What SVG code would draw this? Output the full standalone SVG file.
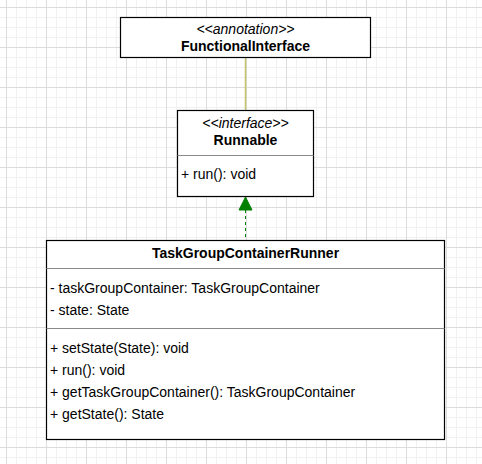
<svg xmlns="http://www.w3.org/2000/svg" width="482" height="464" viewBox="0 0 482 464">
  <style>
    .box { fill: #ffffff; stroke: #000000; stroke-width: 1.2; }
    .div { stroke: #8a8a8a; stroke-width: 1; }
    text { font-family: "Liberation Sans", Arial, sans-serif; font-size: 14px; fill: #000000; }
    .st { font-style: italic; text-anchor: middle; }
    .nm { font-weight: bold; text-anchor: middle; }
  </style>
  <defs>
    <pattern id="grid" patternUnits="userSpaceOnUse" x="6" y="7" width="40" height="40">
      <rect x="10" y="0" width="1" height="40" fill="#f1f1f1"/>
      <rect x="20" y="0" width="1" height="40" fill="#f1f1f1"/>
      <rect x="30" y="0" width="1" height="40" fill="#f1f1f1"/>
      <rect x="0" y="10" width="40" height="1" fill="#f1f1f1"/>
      <rect x="0" y="20" width="40" height="1" fill="#f1f1f1"/>
      <rect x="0" y="30" width="40" height="1" fill="#f1f1f1"/>
      <rect x="0" y="0" width="1" height="40" fill="#dcdcdc"/>
      <rect x="0" y="0" width="40" height="1" fill="#dcdcdc"/>
    </pattern>
  </defs>
  <rect width="482" height="464" fill="#ffffff"/>
  <rect width="482" height="464" fill="url(#grid)"/>

  <g id="connectors">
    <line x1="245.5" y1="57.5" x2="245.5" y2="110.5" stroke="#c4c46a" stroke-width="1.5"/>
    <line x1="245.5" y1="210" x2="245.5" y2="240.5" stroke="#008000" stroke-width="1" stroke-dasharray="3 3"/>
    <polygon points="245.5,197 239,210 252,210" fill="#008000" stroke="#008000" stroke-width="1"/>
  </g>

  <g id="FunctionalInterface">
    <rect class="box" x="120.5" y="17.5" width="250" height="40"/>
    <text class="st" x="245.5" y="34">&lt;&lt;annotation&gt;&gt;</text>
    <text class="nm" x="245.5" y="51">FunctionalInterface</text>
  </g>

  <g id="Runnable">
    <rect class="box" x="177.5" y="110.5" width="136" height="86"/>
    <text class="st" x="245.5" y="128">&lt;&lt;interface&gt;&gt;</text>
    <text class="nm" x="245.5" y="144.5">Runnable</text>
    <line class="div" x1="177.5" y1="155.5" x2="313.5" y2="155.5"/>
    <text x="181" y="179">+ run(): void</text>
  </g>

  <g id="TaskGroupContainerRunner">
    <rect class="box" x="46.5" y="240.5" width="398" height="199"/>
    <text class="nm" x="245.5" y="257.5">TaskGroupContainerRunner</text>
    <line class="div" x1="46.5" y1="268.5" x2="444.5" y2="268.5"/>
    <text x="50" y="292.5">- taskGroupContainer: TaskGroupContainer</text>
    <text x="50" y="314.5">- state: State</text>
    <line class="div" x1="46.5" y1="328.5" x2="444.5" y2="328.5"/>
    <text x="50" y="352.5">+ setState(State): void</text>
    <text x="50" y="374.5">+ run(): void</text>
    <text x="50" y="396.5">+ getTaskGroupContainer(): TaskGroupContainer</text>
    <text x="50" y="418.5">+ getState(): State</text>
  </g>
</svg>
